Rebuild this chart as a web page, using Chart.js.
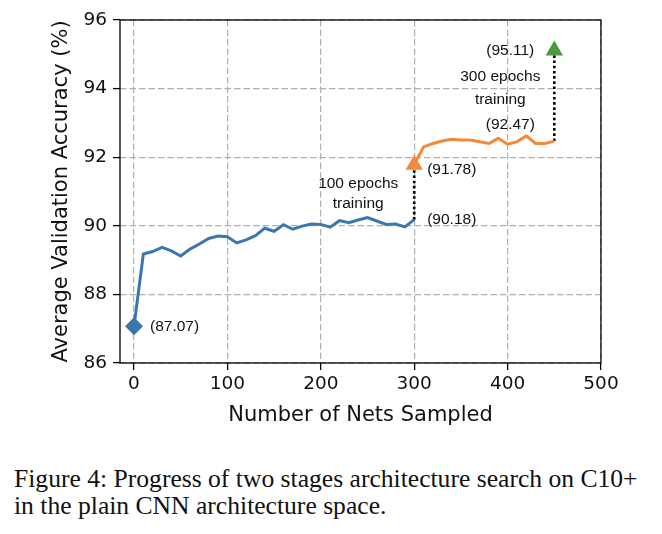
<!DOCTYPE html>
<html>
<head>
<meta charset="utf-8">
<script src="https://cdn.jsdelivr.net/npm/chart.js@4/dist/chart.umd.min.js"></script>
<style>
  html, body { margin: 0; padding: 0; background: #fff; }
  #wrap { position: relative; width: 662px; height: 534px; }
  #myChart { position: absolute; left: 0; top: 0; }
  #caption {
    position: absolute; left: 14px; top: 465px; width: 648px; white-space: nowrap;
    font-family: "Liberation Serif", "Times New Roman", serif;
    font-size: 25.6px; line-height: 27px; color: #111;
  }
</style>
</head>
<body>
<div id="wrap">
  <canvas id="myChart" width="662" height="440"></canvas>
  <div id="caption">Figure 4: Progress of two stages architecture search on C10+<br>in the plain CNN architecture space.</div>
</div>
<script>
// stage 1 (100 epochs)
const netsStage1 = [0, 10, 20, 30, 40, 50, 60, 70, 80, 90, 100, 110, 120, 130, 140, 150,
    160, 170, 180, 190, 200, 210, 220, 230, 240, 250, 260, 270, 280, 290, 300];
const accStage1 = [87.07, 89.18, 89.25, 89.37, 89.27, 89.12, 89.32, 89.47, 89.63, 89.70, 89.68,
    89.50, 89.59, 89.71, 89.93, 89.84, 90.03, 89.90, 89.99, 90.05, 90.04, 89.96, 90.15, 90.09,
    90.17, 90.24, 90.14, 90.04, 90.05, 89.97, 90.18];

// stage 2 (300 epochs)
const netsStage2 = [300, 310, 320, 330, 340, 350, 360, 370, 380, 390, 400, 410, 420, 430, 440, 450];
const accStage2 = [91.78, 92.30, 92.40, 92.47, 92.52, 92.50, 92.50, 92.45, 92.40, 92.55, 92.38,
    92.45, 92.62, 92.40, 92.40, 92.47];

// final result after full training
const netsFinal = [450];
const accFinal = [95.11];

const xTicks = [0, 100, 200, 300, 400, 500];
const yTicks = [86, 88, 90, 92, 94, 96];

const blue = '#3a77b1';
const orange = '#f28a3a';
const green = '#4a9a3f';

const toPts = (xs, ys) => xs.map((x, i) => ({x: x, y: ys[i]}));
const last = arr => arr[arr.length - 1];

const fontTick = {family: 'DejaVu Sans', size: 18.5};
const fontTitle = {family: 'DejaVu Sans', size: 21};
const fontNote = '15.5px "Liberation Sans", Arial, sans-serif';

const framePlugin = {
    id: 'frame',
    afterDraw(chart) {
        const {ctx, chartArea: a} = chart;
        ctx.save();
        ctx.strokeStyle = '#000';
        ctx.lineWidth = 1.3;
        ctx.strokeRect(a.left, a.top, a.right - a.left, a.bottom - a.top);
        ctx.restore();
    }
};

const notesPlugin = {
    id: 'notes',
    afterDatasetsDraw(chart) {
        const {ctx} = chart;
        const xs = chart.scales.x, ys = chart.scales.y;
        const px = v => xs.getPixelForValue(v);
        const py = v => ys.getPixelForValue(v);
        ctx.save();
        ctx.font = fontNote;
        ctx.fillStyle = '#111';
        ctx.textBaseline = 'middle';

        ctx.textAlign = 'left';
        ctx.fillText('(' + accStage1[0].toFixed(2) + ')', px(netsStage1[0]) + 16, py(accStage1[0]));
        ctx.fillText('(' + last(accStage1).toFixed(2) + ')', px(last(netsStage1)) + 13, py(last(accStage1)));
        ctx.fillText('(' + accStage2[0].toFixed(2) + ')', px(netsStage2[0]) + 13, py(accStage2[0]) + 5);

        ctx.textAlign = 'center';
        ctx.fillText('(' + last(accStage2).toFixed(2) + ')', px(last(netsStage2)) - 44, py(last(accStage2)) - 16);
        ctx.fillText('(' + accFinal[0].toFixed(2) + ')', px(netsFinal[0]) - 44, py(accFinal[0]));

        ctx.fillText('300 epochs', px(netsFinal[0]) - 54, 77);
        ctx.fillText('training', px(netsFinal[0]) - 54, 100);
        ctx.fillText('100 epochs', px(netsStage2[0]) - 56, 184);
        ctx.fillText('training', px(netsStage2[0]) - 56, 204);
        ctx.restore();
    }
};

const ctx = document.getElementById('myChart');

new Chart(ctx, {
    type: 'scatter',
    data: {
        datasets: [
            {
                // jump from stage 1 to stage 2
                data: [{x: last(netsStage1), y: last(accStage1)}, {x: netsStage2[0], y: accStage2[0]}],
                showLine: true, borderColor: '#000', borderWidth: 2.6, borderDash: [2.6, 2.6],
                pointRadius: 0, order: 5
            },
            {
                // jump from stage 2 to final
                data: [{x: last(netsStage2), y: last(accStage2)}, {x: netsFinal[0], y: accFinal[0]}],
                showLine: true, borderColor: '#000', borderWidth: 2.6, borderDash: [2.6, 2.6],
                pointRadius: 0, order: 5
            },
            {
                data: toPts(netsStage1, accStage1),
                showLine: true, borderColor: blue, borderWidth: 3, pointRadius: 0,
                tension: 0, order: 4
            },
            {
                data: toPts(netsStage2, accStage2),
                showLine: true, borderColor: orange, borderWidth: 3, pointRadius: 0,
                tension: 0, order: 3
            },
            {
                data: toPts(netsStage1.slice(0, 1), accStage1.slice(0, 1)),
                pointStyle: 'rectRot', pointRadius: 9, backgroundColor: blue, borderColor: blue,
                borderWidth: 0, order: 1
            },
            {
                data: toPts(netsStage2.slice(0, 1), accStage2.slice(0, 1)),
                pointStyle: 'triangle', pointRadius: 10, backgroundColor: orange, borderColor: orange,
                borderWidth: 0, order: 1
            },
            {
                data: toPts(netsFinal, accFinal),
                pointStyle: 'triangle', pointRadius: 10, backgroundColor: green, borderColor: green,
                borderWidth: 0, order: 1
            }
        ]
    },
    options: {
        responsive: false,
        animation: false,
        events: [],
        layout: {padding: {left: 0, right: 61, top: 20, bottom: 0}},
        plugins: {legend: {display: false}, tooltip: {enabled: false}},
        scales: {
            x: {
                type: 'linear', min: -15, max: 500,
                afterBuildTicks: s => { s.ticks = xTicks.map(v => ({value: v})); },
                afterFit: s => { s.height = 77; },
                grid: {color: '#b0b0b0', lineWidth: 1.2, tickColor: '#000', tickLength: 7,
                    tickWidth: 1.3, tickBorderDash: []},
                border: {display: false, dash: [6.5, 3]},
                ticks: {color: '#111', font: fontTick, padding: 3, maxRotation: 0},
                title: {display: true, text: 'Number of Nets Sampled', color: '#111',
                    font: fontTitle, padding: {top: 0, bottom: 12}}
            },
            y: {
                min: 86, max: 96,
                afterBuildTicks: s => { s.ticks = yTicks.map(v => ({value: v})); },
                afterFit: s => { s.width = 120; },
                grid: {color: '#b0b0b0', lineWidth: 1.2, tickColor: '#000', tickLength: 7,
                    tickWidth: 1.3, tickBorderDash: []},
                border: {display: false, dash: [6.5, 3]},
                ticks: {color: '#111', font: fontTick, padding: 6},
                title: {display: true, text: 'Average Validation Accuracy (%)', color: '#111',
                    font: fontTitle, padding: {top: 49, bottom: 0}}
            }
        }
    },
    plugins: [framePlugin, notesPlugin]
});
</script>
</body>
</html>
